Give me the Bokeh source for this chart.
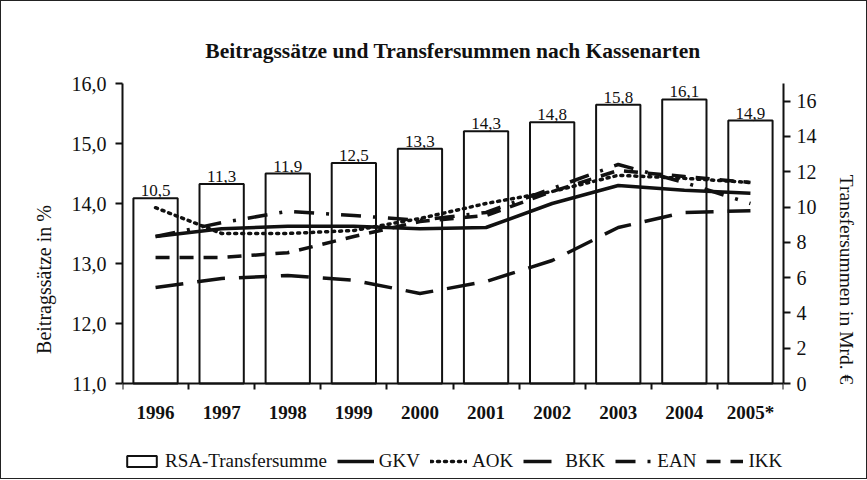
import numpy as np
from bokeh.plotting import figure
from bokeh.models import (Range1d, LinearAxis, FixedTicker, ColumnDataSource,
                          Legend, LegendItem, Title)
from bokeh.embed import file_html
from bokeh.resources import INLINE
from bokeh.core.properties import value

years = ["1996", "1997", "1998", "1999", "2000", "2001", "2002", "2003", "2004", "2005*"]
rsa = [10.5, 11.3, 11.9, 12.5, 13.3, 14.3, 14.8, 15.8, 16.1, 14.9]
gkv = [13.45, 13.58, 13.62, 13.62, 13.58, 13.6, 14.0, 14.3, 14.22, 14.17]
aok = [13.93, 13.5, 13.5, 13.55, 13.75, 14.0, 14.2, 14.47, 14.42, 14.35]
bkk = [12.6, 12.75, 12.8, 12.72, 12.5, 12.7, 13.05, 13.6, 13.85, 13.88]
ean = [13.45, 13.68, 13.87, 13.8, 13.72, 13.85, 14.25, 14.65, 14.35, 14.0]
ikk = [13.1, 13.1, 13.18, 13.45, 13.7, 13.8, 14.2, 14.55, 14.45, 14.35]
left_ticks = [11, 12, 13, 14, 15, 16]
right_ticks = [0, 2, 4, 6, 8, 10, 12, 14, 16]

SERIF = "Liberation Serif"
n = len(years)
xc = np.arange(n) + 0.5

# axis extents (values) and the extra room kept below the x axis for the legend
L0, L1 = 11, 16
R0, R1 = 0, 17
PLOT_H, EXTRA_H = 300, 92
ext = EXTRA_H / PLOT_H

src = ColumnDataSource(dict(x=xc, rsa=rsa, lab=[f"{v:.1f}".replace(".", ",") for v in rsa],
                            gkv=gkv, aok=aok, bkk=bkk, ean=ean, ikk=ikk))

p = figure(frame_width=661, frame_height=PLOT_H + EXTRA_H, output_backend="svg",
           toolbar_location=None,
           x_range=Range1d(0, n), y_range=Range1d(L0 - ext * (L1 - L0), L1),
           min_border_left=121, min_border_right=83, min_border_top=82, min_border_bottom=3)
p.styles = {"border": "1px solid #222"}
p.outline_line_color = None
p.xgrid.visible = False
p.ygrid.visible = False
p.background_fill_color = "white"
p.border_fill_color = "white"
p.extra_y_ranges = {"right": Range1d(R0 - ext * (R1 - R0), R1)}

title = Title(text="Beitragssätze und Transfersummen nach Kassenarten", align="center",
              text_font=SERIF, text_font_size="21.5px", text_font_style="bold",
              text_color="#111", standoff=42)
p.add_layout(title, "above")

# bars on right axis
bars = p.vbar(x="x", top="rsa", bottom=R0, width=0.67, source=src, y_range_name="right",
              fill_color="white", line_color="#111", line_width=2)
p.text(x="x", y="rsa", text="lab", source=src, y_range_name="right",
       text_align="center", text_baseline="bottom", y_offset=-2,
       text_font=value(SERIF), text_font_size="17px", text_color="#111")

lw = 3.5
r_gkv = p.line("x", "gkv", source=src, line_color="#111", line_width=lw)
r_aok = p.line("x", "aok", source=src, line_color="#111", line_width=3.5, line_dash="2 5", line_cap="round")
r_bkk = p.line("x", "bkk", source=src, line_color="#111", line_width=lw, line_dash="28 14")
r_ean = p.line("x", "ean", source=src, line_color="#111", line_width=lw, line_dash="20 12 3 12")
r_ikk = p.line("x", "ikk", source=src, line_color="#111", line_width=lw, line_dash="14 10")

# axes
xa = p.xaxis[0]
xa.fixed_location = L0
xa.ticker = FixedTicker(ticks=list(xc), minor_ticks=list(range(n + 1)))
xa.major_label_overrides = {float(v): y for v, y in zip(xc, years)}
xa.major_tick_out = 0
xa.major_tick_in = 0
xa.minor_tick_out = 6
xa.minor_tick_in = 0
xa.axis_line_width = 2
xa.minor_tick_line_width = 2
xa.major_label_text_font = SERIF
xa.major_label_text_font_size = "19px"
xa.major_label_text_font_style = "bold"
xa.major_label_standoff = 12
xa.axis_line_color = "#111"
xa.minor_tick_line_color = "#111"
xa.major_label_text_color = "#111"

ya = p.yaxis[0]
ya.bounds = (L0, L1)
ya.ticker = FixedTicker(ticks=left_ticks)
ya.major_label_overrides = {t: f"{t},0" for t in left_ticks}
ya.minor_tick_line_color = None
ya.major_tick_out = 7
ya.major_tick_in = 0
ya.axis_line_width = 2
ya.major_tick_line_width = 2
ya.major_label_text_font = SERIF
ya.major_label_text_font_size = "20px"
ya.major_label_standoff = 9
ya.axis_label = "Beitragssätze in %"
ya.axis_label_text_font = SERIF
ya.axis_label_text_font_size = "20px"
ya.axis_label_text_font_style = "normal"
ya.axis_label_standoff = 14
ya.axis_line_color = "#111"
ya.major_tick_line_color = "#111"
ya.major_label_text_color = "#111"
ya.axis_label_text_color = "#111"

ra = LinearAxis(y_range_name="right", ticker=FixedTicker(ticks=right_ticks),
                axis_label="Transfersummen in Mrd. €", bounds=(R0, R1))
ra.axis_label_orientation = "vertical"
ra.minor_tick_line_color = None
ra.major_tick_out = 7
ra.major_tick_in = 0
ra.axis_line_width = 2
ra.major_tick_line_width = 2
ra.major_label_text_font = SERIF
ra.major_label_text_font_size = "20px"
ra.major_label_standoff = 6
ra.axis_label_text_font = SERIF
ra.axis_label_text_font_size = "19.5px"
ra.axis_label_text_font_style = "normal"
ra.axis_label_standoff = 16
ra.axis_line_color = "#111"
ra.major_tick_line_color = "#111"
ra.major_label_text_color = "#111"
ra.axis_label_text_color = "#111"
p.add_layout(ra, "right")

legend = Legend(items=[
    LegendItem(label="RSA-Transfersumme", renderers=[bars]),
    LegendItem(label="GKV", renderers=[r_gkv]),
    LegendItem(label="AOK", renderers=[r_aok]),
    LegendItem(label="BKK", renderers=[r_bkk]),
    LegendItem(label="EAN", renderers=[r_ean]),
    LegendItem(label="IKK", renderers=[r_ikk]),
], orientation="horizontal", nrows=1, location=(1, 3), border_line_color=None,
    background_fill_alpha=0, label_text_font=SERIF, label_text_font_size="19px",
    label_text_color="#111", glyph_width=37, glyph_height=14, spacing=10,
    label_standoff=5, padding=2, margin=0)
p.add_layout(legend, "center")

open("out.html", "w").write(file_html(p, INLINE))
